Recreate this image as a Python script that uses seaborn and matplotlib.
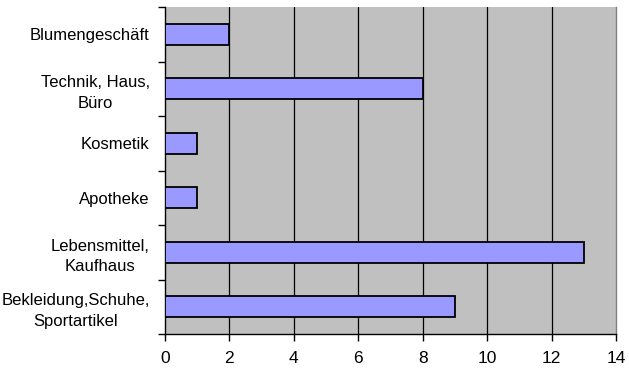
import matplotlib
matplotlib.use("Agg")
import matplotlib.pyplot as plt
import seaborn as sns
import pandas as pd

categories = ["Blumengeschäft", "Technik, Haus,\nBüro", "Kosmetik", "Apotheke",
              "Lebensmittel,\nKaufhaus", "Bekleidung,Schuhe,\nSportartikel"]
values = [2, 8, 1, 1, 13, 9]
xticks = [0, 2, 4, 6, 8, 10, 12, 14]

sns.set_theme(style="white")
plt.rcParams['font.family'] = ['Liberation Sans', 'DejaVu Sans']
plt.rcParams['text.color'] = 'black'
plt.rcParams['xtick.color'] = 'black'
plt.rcParams['ytick.color'] = 'black'

df = pd.DataFrame({"cat": categories, "val": values})

fig = plt.figure(figsize=(6.29, 3.68), dpi=100)
ax = fig.add_axes([165/629, 1-334/368, (616-165)/629, (334-7)/368])
ax.set_facecolor("#C0C0C0")

sns.barplot(data=df, y="cat", x="val", orient="h", color="#9999FF",
            saturation=1, width=0.39, edgecolor="black", linewidth=1.3, ax=ax, zorder=3)

ax.set_xlim(0, 14)
ax.set_ylim(5.5, -0.5)
ax.set_xticks(xticks)
ax.set_xticklabels([str(t) for t in xticks], fontsize=12.5, color="black")
ax.set_xlabel("")
ax.set_ylabel("")

# vertical gridlines
for t in xticks[1:-1]:
    ax.axvline(t, color="black", linewidth=0.9, zorder=1)

# y ticks between categories, labels centered on bars
ax.set_yticks([i - 0.5 for i in range(7)], minor=False)
ax.set_yticklabels([])
ax.set_yticks(range(6), minor=True)
ax.set_yticklabels(categories, minor=True, fontsize=12, multialignment="center",
                   color="black", linespacing=1.45)
ax.tick_params(axis="y", which="minor", length=0, pad=11)
ax.tick_params(axis="y", which="major", length=5, width=1, color="black", direction="out", left=True)
ax.tick_params(axis="x", which="major", length=5, width=1, color="black", direction="out",
               bottom=True, pad=7)

ax.spines["top"].set_visible(False)
ax.spines["right"].set_color("#808080")
ax.spines["left"].set_color("black")
ax.spines["bottom"].set_color("black")
for s in ["left", "bottom", "right"]:
    ax.spines[s].set_linewidth(1)

fig.patch.set_facecolor("white")
fig.savefig("out.png", dpi=100)
